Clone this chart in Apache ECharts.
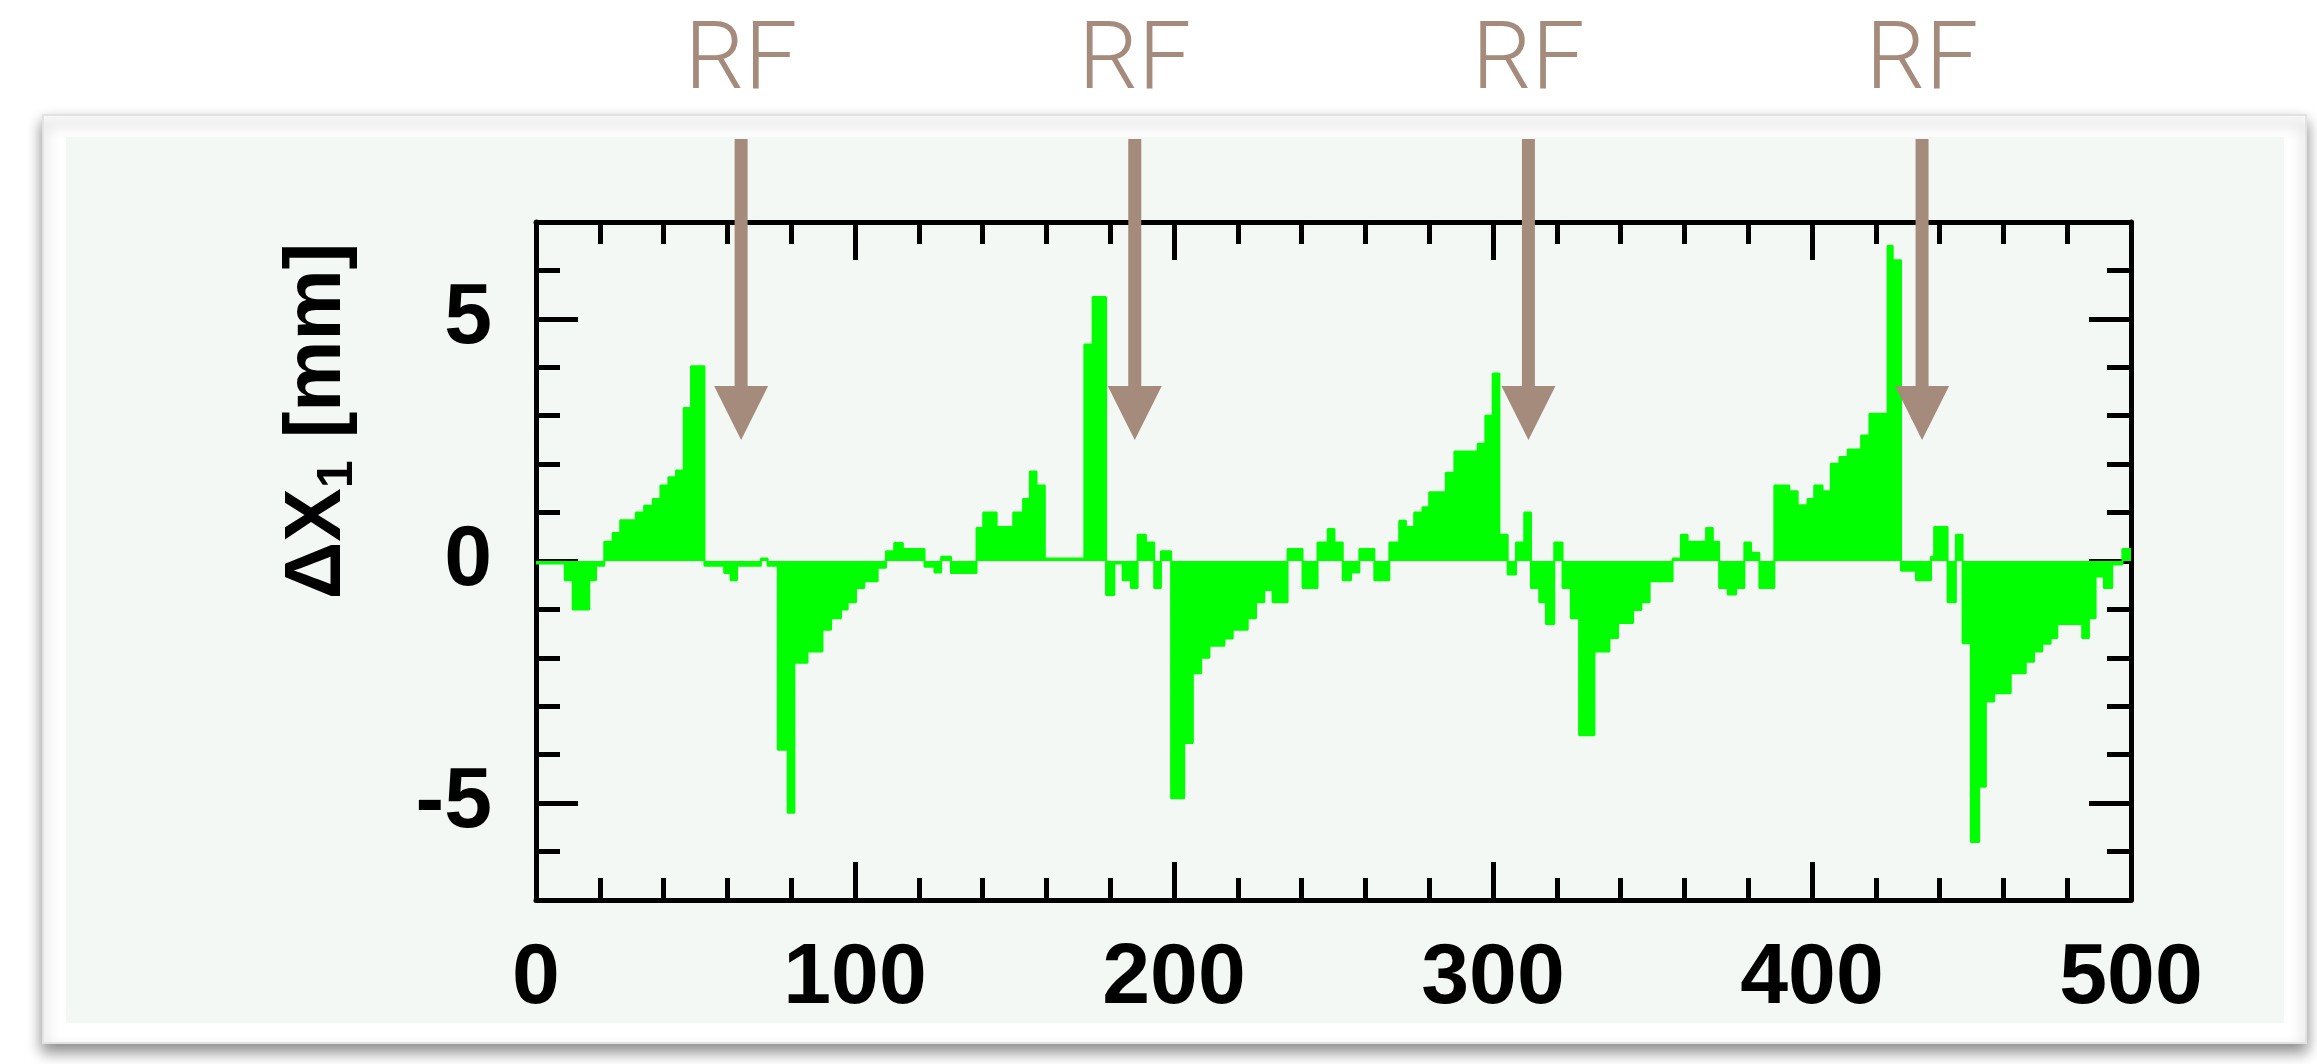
<!DOCTYPE html>
<html><head><meta charset="utf-8">
<script src="https://cdn.jsdelivr.net/npm/echarts@6/dist/echarts.min.js"></script>
<style>html,body{margin:0;padding:0;background:#fff;}#c{width:2317px;height:1064px;}</style>
</head><body><div id="c"></div>
<script>
// bin start positions along the ring and orbit difference (mm)
const binStart = [
  0, 9, 11.5, 16.7, 18.8, 21.4, 24, 26.4, 31.3, 33.9,
  36.6, 39, 41.5, 43.9, 46.3, 48.6, 52.8, 59, 61, 63,
  70.5, 72.6, 75.8, 78.9, 81, 85.1, 89.8, 92.5, 95.6, 97.7,
  100.3, 102.9, 107.1, 109.7, 112.3, 115, 121.8, 124.9, 127, 130.1,
  138.1, 140.2, 144.4, 149.6, 152.7, 154.8, 156.9, 159.5, 171.9, 174.5,
  178.7, 181.3, 183.9, 186.5, 188.6, 191.2, 193.8, 195.9, 199.1, 203.2,
  205.9, 208.5, 211.1, 215.8, 218.4, 223.1, 225.7, 228.3, 230.9, 235.6,
  240.3, 245, 248.2, 250.3, 252.9, 255.5, 258.1, 262.8, 267.5, 270.6,
  272.7, 275.3, 277.9, 280, 285.2, 287.9, 295.2, 297.6, 299.9, 302,
  304.6, 307.2, 309.8, 311.9, 314.5, 316.6, 319.2, 321.8, 324.4, 327,
  331.8, 336.5, 339.2, 343.9, 346.5, 349.1, 356.3, 358.9, 361, 366.8,
  368.9, 370.9, 373.6, 376.2, 378.8, 380.9, 383.5, 388.2, 392.9, 395.5,
  398.6, 400.7, 403.3, 405.9, 408.6, 411.2, 415.4, 418, 423.7, 425.3,
  427.9, 432.6, 437.3, 438.3, 442.5, 445.1, 447.2, 449.8, 452.4, 454.5,
  457.1, 462.3, 467, 469.6, 472.2, 474.8, 476.9, 484.7, 486.8, 488.9,
  491.5, 494.1, 497.3
];
const dxValues = [
  -0.05, -0.4, -1.0, -0.4, -0.1, 0.4, 0.58, 0.84, 1.0, 1.14,
  1.28, 1.56, 1.73, 1.87, 3.16, 4.02, -0.1, -0.25, -0.4, -0.1,
  0.05, -0.1, -3.9, -5.2, -2.1, -1.87, -1.42, -1.18, -1.0, -0.85,
  -0.56, -0.42, -0.14, 0.2, 0.37, 0.25, -0.12, -0.24, 0.09, -0.25,
  0.68, 1.0, 0.7, 1.0, 1.28, 1.85, 1.56, 0.05, 4.47, 5.45,
  -0.7, -0.05, -0.4, -0.56, 0.54, 0.38, -0.56, 0.2, -4.9, -3.76,
  -2.32, -2.0, -1.75, -1.6, -1.42, -1.18, -0.85, -0.6, -0.85, 0.25,
  -0.56, 0.38, 0.66, 0.38, -0.4, -0.24, 0.25, -0.4, 0.38, 0.83,
  0.7, 1.0, 1.11, 1.42, 1.82, 2.26, 2.42, 3.0, 3.87, 0.54,
  -0.28, 0.38, 1.0, -0.56, -0.85, -1.3, 0.38, -0.56, -1.18, -3.6,
  -1.87, -1.59, -1.28, -1.01, -0.85, -0.42, 0.05, 0.54, 0.4, 0.68,
  0.4, -0.56, -0.69, -0.56, 0.38, 0.17, -0.56, 1.56, 1.44, 1.15,
  1.28, 1.56, 1.44, 2.01, 2.15, 2.3, 2.59, 3.04, 6.51, 6.21,
  -0.2, -0.4, 0.09, 0.7, -0.85, 0.54, -1.7, -5.8, -4.66, -2.9,
  -2.73, -2.32, -2.08, -1.87, -1.71, -1.59, -1.3, -1.59, -1.18, -0.32,
  -0.56, -0.07, 0.25
];
const xEnd = 500;
const xRange = [0, 500];
const yRange = [-7, 7];
const yLabelValues = [-5, 0, 5];
const rfPositions = [64.3, 187.7, 311.1, 434.5];
const rfLabel = 'RF';
const yNameMain = 'ΔX';
const yNameSub = '1';
const yNameUnit = ' [mm]';

const stepData = binStart.map((x, i) => [x, dxValues[i]]);
stepData.push([xEnd, dxValues[dxValues.length - 1]]);

const chart = echarts.init(document.getElementById('c'), null, {renderer: 'canvas'});
const BLACK = '#000';
const labelFont = {fontFamily: 'Liberation Sans', fontWeight: 'bold', fontSize: 86, color: BLACK};
const brown = '#a48b7c';

function xAx(pos, showLabel) {
  return {
    type: 'value', position: pos, min: xRange[0], max: xRange[1], interval: 100,
    axisLine: {show: true, onZero: false, lineStyle: {color: BLACK, width: 5}},
    axisTick: {show: true, inside: true, length: 38, lineStyle: {color: BLACK, width: 5}},
    minorTick: {show: true, splitNumber: 5, length: 22, lineStyle: {color: BLACK, width: 5}},
    axisLabel: Object.assign({show: showLabel, margin: 36}, labelFont),
    splitLine: {show: false}, minorSplitLine: {show: false}
  };
}
function yMinor(pos, showLabel) {
  return {
    type: 'value', position: pos, min: yRange[0], max: yRange[1], interval: 1,
    axisLine: {show: true, onZero: false, lineStyle: {color: BLACK, width: 5}},
    axisTick: {show: true, inside: true, length: 24, lineStyle: {color: BLACK, width: 5}},
    axisLabel: Object.assign({show: showLabel, margin: 44,
      formatter: v => (yLabelValues.indexOf(v) >= 0 ? String(v) : '')}, labelFont),
    splitLine: {show: false}
  };
}
function yMajor(pos) {
  return {
    type: 'value', position: pos, min: yRange[0], max: yRange[1],
    axisLine: {show: false, onZero: false},
    axisTick: {show: true, inside: true, length: 42, customValues: yLabelValues,
      lineStyle: {color: BLACK, width: 5}},
    axisLabel: {show: false},
    splitLine: {show: false}
  };
}

const baseGraphic = [
  {type: 'rect', z: -100, shape: {x: 43, y: 115, width: 2263, height: 928},
   style: {fill: '#fff', stroke: '#e2e2e2', lineWidth: 2,
     shadowBlur: 14, shadowOffsetY: 8, shadowColor: 'rgba(0,0,0,0.45)'}},
  {type: 'rect', z: -99, shape: {x: 66, y: 137, width: 2218, height: 886},
   style: {fill: '#f4f8f4'}},
  {type: 'text', z: 50, x: 318, y: 421, rotation: Math.PI / 2,
   style: {text: '{a|' + yNameMain + '}{b|' + yNameSub + '}{a|' + yNameUnit + '}',
     align: 'center', verticalAlign: 'middle',
     rich: {
       a: {fontFamily: 'Liberation Sans', fontWeight: 'bold', fontSize: 80, fill: BLACK, lineHeight: 90, verticalAlign: 'middle'},
       b: {fontFamily: 'Liberation Sans', fontWeight: 'bold', fontSize: 50, fill: BLACK, lineHeight: 50, verticalAlign: 'bottom'}
     }}}
];

chart.setOption({
  animation: false,
  backgroundColor: '#fff',
  grid: {left: 536, right: 186, top: 222, bottom: 164, containLabel: false},
  xAxis: [xAx('bottom', true), xAx('top', false)],
  yAxis: [yMinor('left', true), yMajor('left'), yMinor('right', false), yMajor('right')],
  series: [{
    type: 'line', xAxisIndex: 0, yAxisIndex: 0, step: 'end', symbol: 'none',
    data: stepData, z: 1,
    lineStyle: {color: '#00ff00', width: 2},
    areaStyle: {color: '#00ff00', opacity: 1}
  }],
  graphic: baseGraphic
});

const arrows = [];
rfPositions.forEach(v => {
  const cx = chart.convertToPixel({xAxisIndex: 0}, v);
  arrows.push({type: 'rect', z: 100, shape: {x: cx - 6.5, y: 139, width: 13, height: 250}, style: {fill: brown}});
  arrows.push({type: 'polygon', z: 100, shape: {points: [[cx - 27, 386], [cx + 27, 386], [cx, 440]]}, style: {fill: brown}});
  arrows.push({type: 'text', z: 100, x: cx, y: 64,
    style: {text: rfLabel, fill: brown, font: '300 94px Roboto', align: 'center', verticalAlign: 'middle'}});
});
chart.setOption({graphic: baseGraphic.concat(arrows)});
</script></body></html>
